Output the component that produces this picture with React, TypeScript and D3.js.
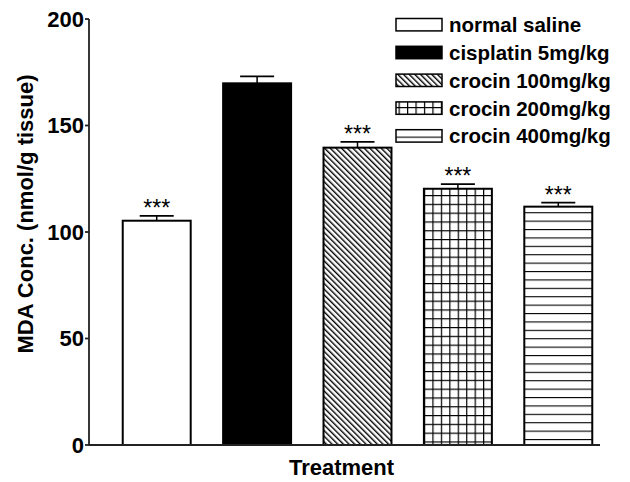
import React from 'react';
import * as d3 from 'd3';

const categories = ['normal saline', 'cisplatin 5mg/kg', 'crocin 100mg/kg', 'crocin 200mg/kg', 'crocin 400mg/kg'];
const means = [105.3, 169.8, 139.6, 120.3, 111.9];
const sems = [2.3, 3.3, 2.7, 2.2, 1.9];
const significance = ['***', '', '***', '***', '***'];
const fills = ['white', 'black', 'url(#diag)', 'url(#grid)', 'url(#hlines)'];
const yTicks = [0, 50, 100, 150, 200];

const FONT = '"Liberation Sans", Arial, Helvetica, sans-serif';

export default function App() {
  const W = 630, H = 482;
  const y = d3.scaleLinear().domain([0, 200]).range([445, 19]);
  const x = d3.scaleBand<string>().domain(categories).range([89, 626]).paddingInner(0.323).paddingOuter(0.336);
  const bw = x.bandwidth();
  const capHalf = 17;

  return (
    <svg width={W} height={H} style={{ position: 'absolute', left: 0, top: 0, background: 'white' }} fontFamily={FONT}>
      <defs>
        <pattern id="diag" patternUnits="userSpaceOnUse" width={4.0} height={4.0} patternTransform="rotate(-45)">
          <rect width={4.0} height={4.0} fill="white" />
          <line x1={0.7} y1={0} x2={0.7} y2={4.0} stroke="black" strokeWidth={1.4} />
        </pattern>
        <pattern id="grid" patternUnits="userSpaceOnUse" x={x(categories[3])} y={y(200)} width={8.45} height={8.8}>
          <rect width={8.45} height={8.8} fill="white" />
          <line x1={0} y1={0} x2={0} y2={8.8} stroke="black" strokeWidth={2.4} />
          <line x1={0} y1={0} x2={8.45} y2={0} stroke="black" strokeWidth={2.4} />
        </pattern>
        <pattern id="hlines" patternUnits="userSpaceOnUse" x={0} y={y(200)} width={10} height={8.4}>
          <rect width={10} height={8.4} fill="white" />
          <line x1={0} y1={0} x2={10} y2={0} stroke="black" strokeWidth={2.2} />
        </pattern>
      </defs>

      {/* bars */}
      {categories.map((c, i) => {
        const x0 = x(c)!;
        const top = y(means[i]);
        const errTop = y(means[i] + sems[i]);
        const cx = x0 + bw / 2;
        return (
          <g key={c}>
            <rect x={x0} y={top} width={bw} height={y(0) - top} fill={fills[i]} stroke="black" strokeWidth={2} />
            <line x1={cx} y1={top} x2={cx} y2={errTop} stroke="black" strokeWidth={1.5} />
            <line x1={cx - capHalf} y1={errTop} x2={cx + capHalf} y2={errTop} stroke="black" strokeWidth={1.8} />
            {significance[i] && (
              <text x={cx} y={errTop} textAnchor="middle" fontSize={23} fill="black">{significance[i]}</text>
            )}
          </g>
        );
      })}

      {/* axes */}
      <line x1={89} y1={y(200)} x2={89} y2={y(0)} stroke="#222" strokeWidth={1.8} />
      <line x1={89} y1={y(0)} x2={600} y2={y(0)} stroke="#222" strokeWidth={1.8} />
      {yTicks.map(t => (
        <g key={t}>
          <line x1={85} y1={y(t)} x2={89} y2={y(t)} stroke="#222" strokeWidth={1.8} />
          <text x={84} y={y(t)} dy="0.36em" textAnchor="end" fontSize={22} fontWeight="bold">{t}</text>
        </g>
      ))}
      <text transform={`translate(33,${(y(0) + y(200)) / 2 - 18}) rotate(-90)`} textAnchor="middle" fontSize={22} fontWeight="bold">MDA Conc. (nmol/g tissue)</text>
      <text x={341.5} y={475} textAnchor="middle" fontSize={22} fontWeight="bold">Treatment</text>

      {/* legend */}
      {categories.map((c, i) => {
        const cy = 24.7 + i * 27.8;
        return (
          <g key={'l' + c}>
            <rect x={396} y={cy - 6.2} width={46} height={12.4} fill={fills[i]} stroke="black" strokeWidth={1.5} />
            <text x={449} y={cy + 7.5} fontSize={20.5} fontWeight="bold">{c}</text>
          </g>
        );
      })}
    </svg>
  );
}
